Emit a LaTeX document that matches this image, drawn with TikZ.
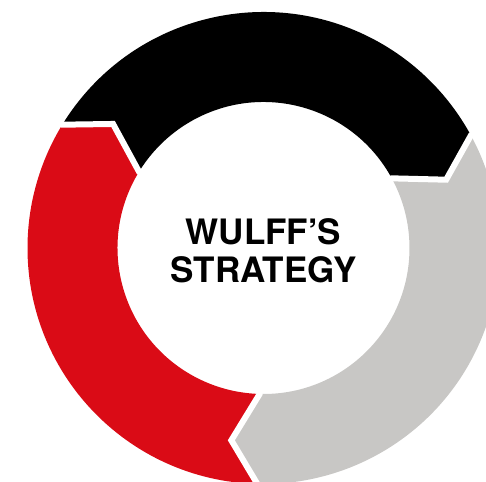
\documentclass[tikz,border=0pt]{standalone}
\usepackage{fontspec}
\setsansfont{TeX Gyre Heros}

\definecolor{ringred}{RGB}{218,11,22}
\definecolor{ringgray}{RGB}{200,199,197}

% ring geometry, 1 unit = 1pt
\newcommand{\ringout}{236}
\newcommand{\ringin}{146}
\newcommand{\ringmid}{195}
\newcommand{\tipturn}{8}

\begin{document}
\begin{tikzpicture}[x=1pt, y=1pt,
  font=\sffamily,
  gap/.style={draw=white, line width=6pt, line join=miter, line cap=butt},
  title/.style={font=\sffamily\bfseries\fontsize{35}{38}\selectfont, align=center, text=black}
]
\useasboundingbox (0,0) rectangle (486,481);
\clip (0,0) rectangle (486,481);

\coordinate (hub) at (263.5,233);

% --- three arc segments, each one pointing on clockwise ---
\begin{scope}[shift={(hub)}]
\foreach \a/\col in {148.5/black, 28.5/ringgray, 268.5/ringred}{
  \pgfmathsetmacro{\b}{\a-120}
  \fill[\col] (\a:\ringout) arc[start angle=\a, end angle=\b, radius=\ringout]
    -- (\b-\tipturn:\ringmid) -- (\b:\ringin)
    arc[start angle=\b, end angle=\a, radius=\ringin]
    -- (\a-\tipturn:\ringmid) -- cycle;
}

% white cuts between the segments
\foreach \a in {148.5, 28.5, 268.5}
  \draw[gap] (\a:\ringout+6) -- (\a:\ringout) -- (\a-\tipturn:\ringmid)
    -- (\a:\ringin) -- (\a:\ringin-6);
\end{scope}

% --- centre label ---
\node[title] (strategy) at ([yshift=-3pt]hub) {WULFF’S\\STRATEGY};

\end{tikzpicture}
\end{document}
